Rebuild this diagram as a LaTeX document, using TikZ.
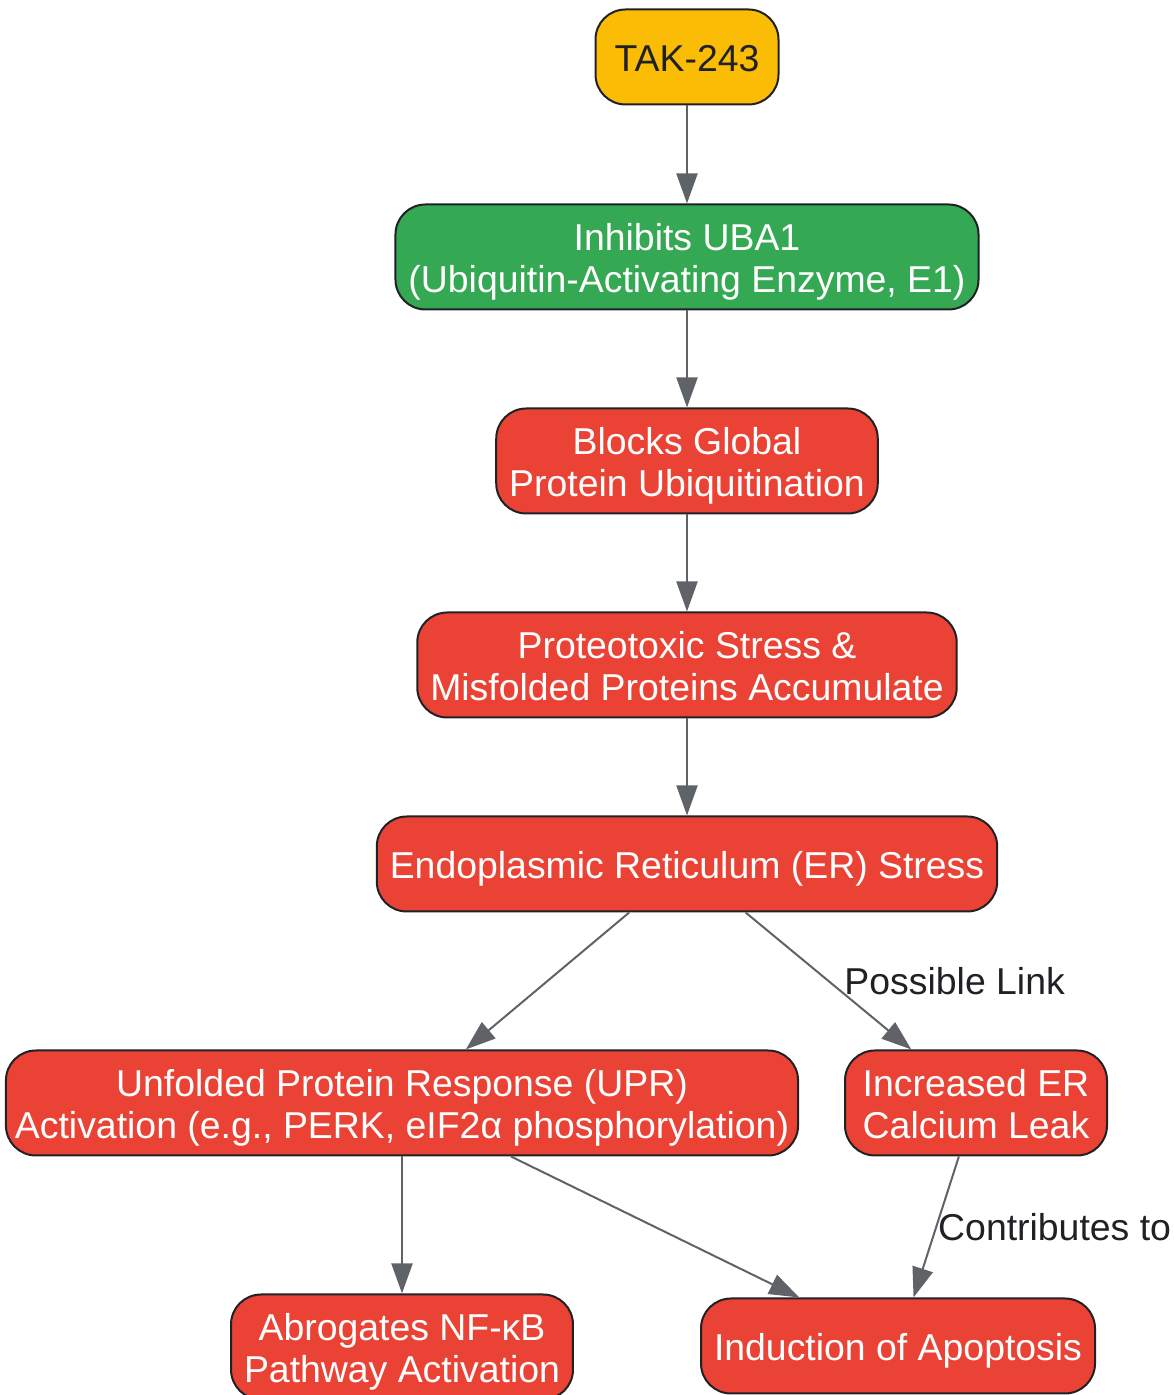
\documentclass[tikz,border=0pt]{standalone}
\usepackage{fontspec}
\setmainfont{Liberation Sans}
\usetikzlibrary{arrows.meta}
\definecolor{takyellow}{HTML}{FBBC05}
\definecolor{ubagreen}{HTML}{34A853}
\definecolor{stressred}{HTML}{EA4335}
\definecolor{edgegray}{HTML}{5F6368}
\definecolor{inkdark}{HTML}{202124}
\newcommand{\gvtop}{\rule{0pt}{38pt}}
\newcommand{\gvbot}{\rule[-8.5pt]{0pt}{8.5pt}}

\begin{document}
\begin{tikzpicture}[x=1pt,y=1pt]
	\tikzset{every node/.style={font=\fontsize{37.4}{42}\selectfont}}
	\tikzset{box/.style={draw=inkdark,line width=2pt,rounded corners=30pt,align=center,inner xsep=13pt,inner ysep=5pt,minimum height=95pt,text=white,fill=stressred}}
	\tikzset{twoline/.style={minimum height=105pt}}
	\tikzset{flow/.style={draw=edgegray,line width=2pt,-{Triangle[length=30pt,width=21pt]}}}
	\tikzset{note/.style={text=inkdark,inner sep=1pt,anchor=west}}
	%\draw[help lines,step=100] (0,0) grid (1173,1395);
	\useasboundingbox (0,0) rectangle (1173,1395);
	\node[box,fill=takyellow,text=inkdark,minimum width=183pt] (tak) at (687,1338) {\gvtop\gvbot TAK-243};
	\node[box,twoline,fill=ubagreen] (uba) at (687,1138) {\gvtop Inhibits UBA1\\\gvbot(Ubiquitin-Activating Enzyme, E1)};
	\node[box,twoline] (block) at (687,934) {\gvtop Blocks Global\\\gvbot Protein Ubiquitination};
	\node[box,twoline] (prot) at (687,730) {\gvtop Proteotoxic Stress \&\\\gvbot Misfolded Proteins Accumulate};
	\node[box] (er) at (687,531) {\gvtop\gvbot Endoplasmic Reticulum (ER) Stress};
	\node[box,twoline,inner xsep=9pt] (upr) at (402,292) {\gvtop Unfolded Protein Response (UPR)\\\gvbot Activation (e.g., PERK, eIF2α phosphorylation)};
	\node[box,twoline,minimum width=262pt] (calc) at (976,292) {\gvtop Increased ER\\\gvbot Calcium Leak};
	\node[box,twoline] (nfkb) at (402,48) {\gvtop Abrogates NF-κB\\\gvbot Pathway Activation};
	\node[box] (apop) at (898,49) {\gvtop\gvbot Induction of Apoptosis};
	\draw[flow] (tak) -- (uba);
	\draw[flow] (uba) -- (block);
	\draw[flow] (block) -- (prot);
	\draw[flow] (prot) -- (er);
	\draw[flow] (er) -- (upr);
	\draw[flow] (er) -- (calc) node[note,midway,xshift=14pt] {Possible Link};
	\draw[flow] (upr) -- (nfkb);
	\draw[flow] (upr) -- (apop);
	\draw[flow] (calc) -- (apop) node[note,midway] {Contributes to};
\end{tikzpicture}
\end{document}
